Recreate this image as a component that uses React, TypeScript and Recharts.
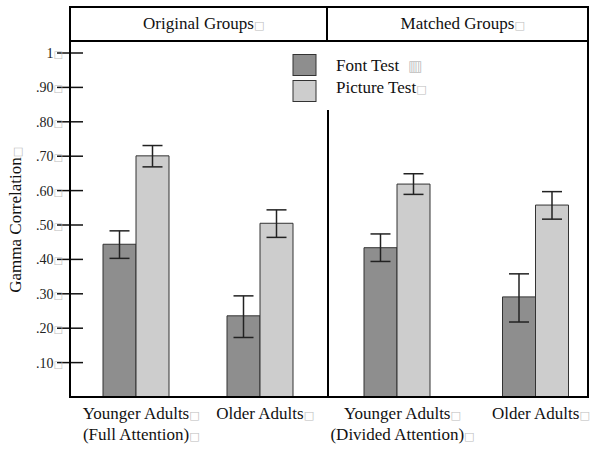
import React from "react";
import { Bar, BarChart, ErrorBar, XAxis, YAxis } from "recharts";

const panelTitles = ["Original Groups", "Matched Groups"];
const originalGroups = ["Younger Adults|(Full Attention)", "Older Adults"];
const matchedGroups = ["Younger Adults|(Divided Attention)", "Older Adults"];
const seriesNames = ["Font Test", "Picture Test"];
const seriesColors = ["#8e8e8e", "#cdcdcd"];

// means and the ends of the error bars
const fontOriginal = [0.444, 0.236];
const fontOriginalLow = [0.403, 0.173];
const fontOriginalHigh = [0.483, 0.294];
const pictureOriginal = [0.701, 0.505];
const pictureOriginalLow = [0.669, 0.464];
const pictureOriginalHigh = [0.731, 0.544];

const fontMatched = [0.434, 0.291];
const fontMatchedLow = [0.394, 0.218];
const fontMatchedHigh = [0.474, 0.358];
const pictureMatched = [0.619, 0.558];
const pictureMatchedLow = [0.589, 0.517];
const pictureMatchedHigh = [0.649, 0.597];

const yTicks = [0.1, 0.2, 0.3, 0.4, 0.5, 0.6, 0.7, 0.8, 0.9, 1];
const yTickLabels = [".10", ".20", ".30", ".40", ".50", ".60", ".70", ".80", ".90", "1"];

const SERIF = "'Liberation Serif', 'Times New Roman', serif";
const BOX = "\u25A1";
const BOX_FONT = "'DejaVu Sans', sans-serif";
const BOX_COLOR = "#bdbdbd";

function buildRows(
  groups: string[],
  font: number[],
  fontLow: number[],
  fontHigh: number[],
  pic: number[],
  picLow: number[],
  picHigh: number[]
) {
  return groups.map((name, i) => ({
    name,
    font: font[i],
    fontErr: [font[i] - fontLow[i], fontHigh[i] - font[i]],
    picture: pic[i],
    pictureErr: [pic[i] - picLow[i], picHigh[i] - pic[i]],
  }));
}

const originalRows = buildRows(
  originalGroups,
  fontOriginal,
  fontOriginalLow,
  fontOriginalHigh,
  pictureOriginal,
  pictureOriginalLow,
  pictureOriginalHigh
);
const matchedRows = buildRows(
  matchedGroups,
  fontMatched,
  fontMatchedLow,
  fontMatchedHigh,
  pictureMatched,
  pictureMatchedLow,
  pictureMatchedHigh
);

const Box = ({ hidden, size = 10 }: { hidden?: boolean; size?: number }) => (
  <tspan fontFamily={BOX_FONT} fontSize={size} fill={BOX_COLOR} fillOpacity={hidden ? 0 : 1}>
    {BOX}
  </tspan>
);

function YTick({ y, payload }: any) {
  const idx = yTicks.findIndex((t) => Math.abs(t - payload.value) < 1e-6);
  return (
    <g>
      <line x1={57} x2={83} y1={y} y2={y} stroke="#111" strokeWidth={1.5} />
      <text x={63} y={y} dy="0.35em" textAnchor="end" fontFamily={SERIF} fontSize={14} fill="#222">
        {yTickLabels[idx]}
        <Box size={10} />
      </text>
    </g>
  );
}

function XTick({ x, y, payload }: any) {
  const lines = String(payload.value).split("|");
  return (
    <text textAnchor="middle" fontFamily={SERIF} fontSize={17} fill="#111">
      {lines.map((line, i) => (
        <tspan key={i} x={x} y={y + 14 + i * 21}>
          <Box hidden size={11} />
          {line}
          <Box size={11} />
        </tspan>
      ))}
    </text>
  );
}

function YLabel({ viewBox }: any) {
  const cy = viewBox.y + viewBox.height / 2;
  return (
    <text
      x={21}
      y={cy}
      transform={`rotate(-90 21 ${cy})`}
      textAnchor="middle"
      fontFamily={SERIF}
      fontSize={17}
      fill="#111"
    >
      <Box hidden size={11} />
      Gamma Correlation
      <Box size={11} />
    </text>
  );
}

function bars() {
  return [
    <Bar
      key="font"
      dataKey="font"
      name={seriesNames[0]}
      fill={seriesColors[0]}
      stroke="#333"
      strokeWidth={1}
      isAnimationActive={false}
    >
      <ErrorBar dataKey="fontErr" width={10} stroke="#222" strokeWidth={1.5} isAnimationActive={false} />
    </Bar>,
    <Bar
      key="picture"
      dataKey="picture"
      name={seriesNames[1]}
      fill={seriesColors[1]}
      stroke="#333"
      strokeWidth={1}
      isAnimationActive={false}
    >
      <ErrorBar dataKey="pictureErr" width={10} stroke="#222" strokeWidth={1.5} isAnimationActive={false} />
    </Bar>,
  ];
}

function Legend() {
  return (
    <svg width={160} height={56} style={{ position: "absolute", left: 290, top: 50 }}>
      {seriesNames.map((name, i) => (
        <g key={name}>
          <rect x={3} y={4.5 + i * 26} width={23} height={21} fill={seriesColors[i]} stroke="#333" strokeWidth={1} />
          <text x={46} y={21 + i * 22} fontFamily={SERIF} fontSize={17} fill="#111">
            {name}
            {i === 0 ? (
              <tspan dx={9} fontFamily={BOX_FONT} fontSize={15} fill={BOX_COLOR}>
                {"\u25A5"}
              </tspan>
            ) : (
              <Box size={11} />
            )}
          </text>
        </g>
      ))}
    </svg>
  );
}

const line = (s: React.CSSProperties): React.CSSProperties => ({
  position: "absolute",
  background: "#000",
  ...s,
});

export default function App() {
  return (
    <div
      style={{
        position: "absolute",
        left: 0,
        top: 0,
        width: 600,
        height: 449,
        background: "#fff",
        fontFamily: SERIF,
        overflow: "hidden",
      }}
    >
      <div style={{ position: "absolute", left: 0, top: 0 }}>
        <BarChart
          width={328}
          height={449}
          data={originalRows}
          margin={{ top: 53, right: 1, bottom: 0, left: 0 }}
          barSize={33}
          barGap={0}
        >
          <XAxis
            dataKey="name"
            height={52}
            axisLine={false}
            tickLine={false}
            interval={0}
            padding={{ left: 4, right: 5 }}
            tick={<XTick />}
          />
          <YAxis
            type="number"
            domain={[0, 1]}
            ticks={yTicks}
            interval={0}
            width={70}
            axisLine={false}
            tickLine={false}
            tick={<YTick />}
            label={<YLabel />}
          />
          {bars()}
        </BarChart>
      </div>
      <div style={{ position: "absolute", left: 290, top: 0 }}>
        <BarChart
          width={310}
          height={449}
          data={matchedRows}
          margin={{ top: 53, right: 12, bottom: 0, left: 37 }}
          barSize={33}
          barGap={0}
        >
          <XAxis
            dataKey="name"
            height={52}
            axisLine={false}
            tickLine={false}
            interval={0}
            padding={{ left: 1, right: -17 }}
            tick={<XTick />}
          />
          <YAxis type="number" domain={[0, 1]} ticks={yTicks} hide />
          {bars()}
        </BarChart>
      </div>

      {/* panel frame and header strip */}
      <div style={line({ left: 69, top: 6, width: 520, height: 2 })} />
      <div style={line({ left: 69, top: 396, width: 520, height: 2 })} />
      <div style={line({ left: 69, top: 6, width: 2, height: 392 })} />
      <div style={line({ left: 587, top: 6, width: 2, height: 392 })} />
      <div style={line({ left: 69, top: 40, width: 520, height: 2 })} />
      <div style={line({ left: 326, top: 6, width: 2, height: 35 })} />
      <div style={line({ left: 327, top: 110, width: 1.5, height: 287 })} />

      {panelTitles.map((title, i) => (
        <div
          key={title}
          style={{
            position: "absolute",
            left: i === 0 ? 71 : 328,
            width: i === 0 ? 255 : 259,
            top: 8,
            height: 32,
            lineHeight: "32px",
            textAlign: "center",
            fontSize: 17,
            color: "#111",
          }}
        >
          <span style={{ fontFamily: BOX_FONT, fontSize: 11, color: "transparent" }}>{BOX}</span>
          {title}
          <span style={{ fontFamily: BOX_FONT, fontSize: 11, color: BOX_COLOR }}>{BOX}</span>
        </div>
      ))}

      <Legend />
    </div>
  );
}
